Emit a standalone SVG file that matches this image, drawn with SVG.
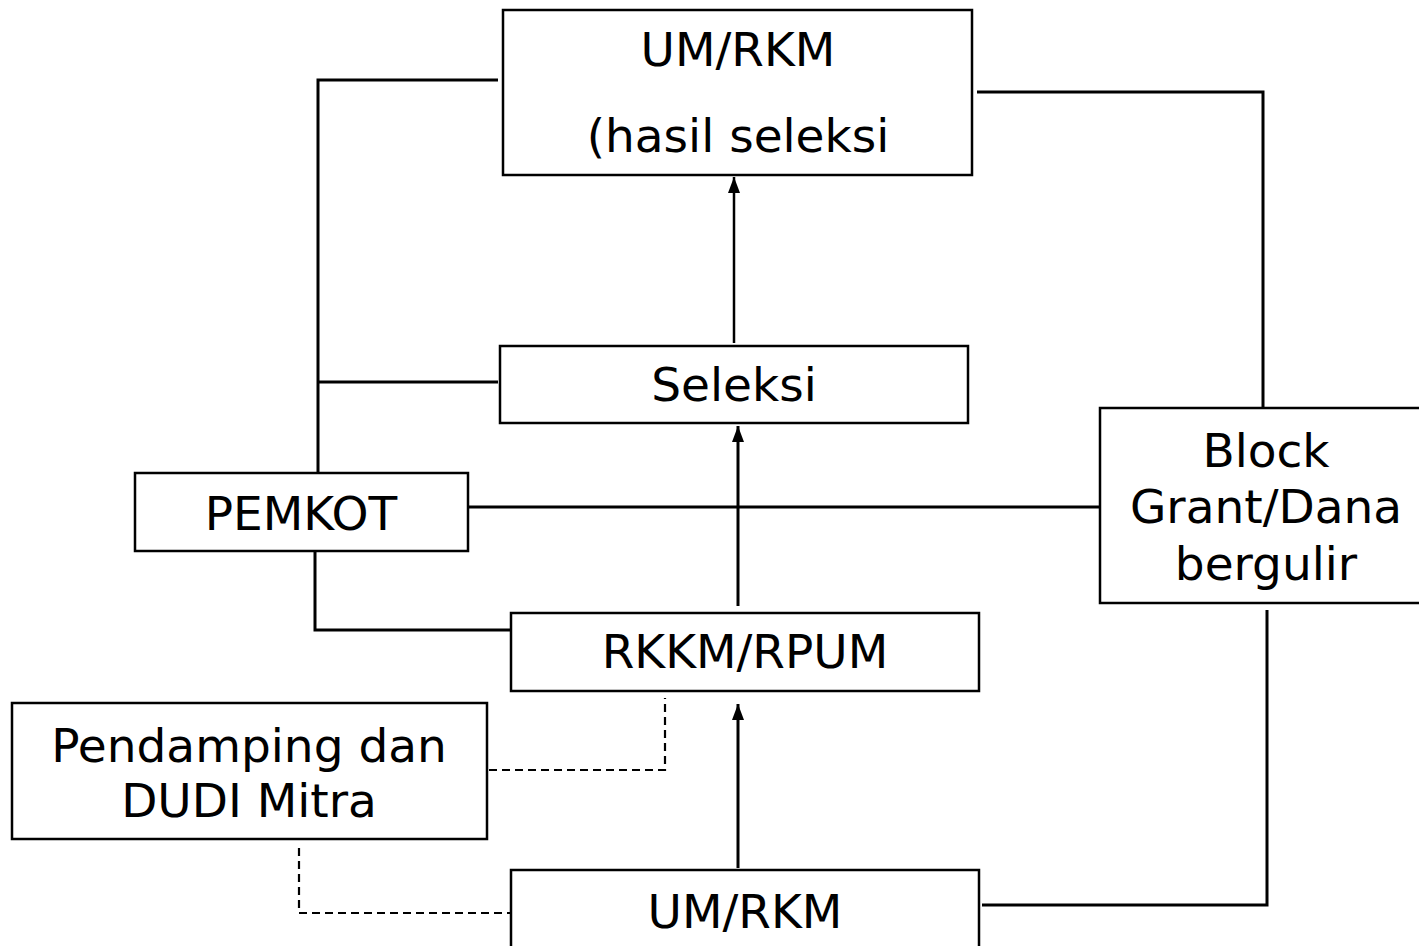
<svg xmlns="http://www.w3.org/2000/svg" width="1419" height="946" viewBox="0 0 1419 946">
<style>
.box{fill:#fff;stroke:#000;stroke-width:2.5}
.t{font-family:"DejaVu Sans",Verdana,sans-serif;font-size:47px;fill:#000;text-anchor:middle}
.c{fill:none;stroke:#000;stroke-width:3}
.d{fill:none;stroke:#000;stroke-width:2.2;stroke-dasharray:8,5}
</style>
<defs>
<marker id="ah" markerWidth="16" markerHeight="12" refX="16" refY="6" orient="auto" markerUnits="userSpaceOnUse" viewBox="0 0 16 12">
<path d="M0,0 L16,6 L0,12 Z" fill="#000"/>
</marker>
</defs>
<rect width="1419" height="946" fill="#fff"/>
<g id="connectors">
<polyline class="c" points="498,80 318,80 318,472"/>
<line class="c" x1="318" y1="382" x2="498" y2="382"/>
<polyline class="c" points="315,552 315,630 510,630"/>
<line class="c" x1="467" y1="507" x2="1100" y2="507"/>
<polyline class="c" points="977,92 1263,92 1263,408"/>
<polyline class="c" points="1267,610 1267,905 982,905"/>
<line class="c" x1="734" y1="343" x2="734" y2="177" style="stroke-width:2.5" marker-end="url(#ah)"/>
<line class="c" x1="738" y1="606" x2="738" y2="426" marker-end="url(#ah)"/>
<line class="c" x1="738" y1="868" x2="738" y2="704" marker-end="url(#ah)"/>
<polyline class="d" points="489,770 665,770 665,698"/>
<polyline class="d" points="299,848 299,913 510,913"/>
</g>
<g id="n-top">
<rect class="box" x="503" y="10" width="469" height="165"/>
<text class="t" x="738" y="66">UM/RKM</text>
<text class="t" x="738" y="152">(hasil seleksi</text>
</g>
<g id="n-seleksi">
<rect class="box" x="500" y="346" width="468" height="77"/>
<text class="t" x="734" y="401">Seleksi</text>
</g>
<g id="n-pemkot">
<rect class="box" x="135" y="473" width="333" height="78"/>
<text class="t" x="301" y="530">PEMKOT</text>
</g>
<g id="n-block">
<rect class="box" x="1100" y="408" width="322" height="195"/>
<text class="t" x="1266" y="467">Block</text>
<text class="t" x="1266" y="523">Grant/Dana</text>
<text class="t" x="1266" y="580">bergulir</text>
</g>
<g id="n-rkkm">
<rect class="box" x="511" y="613" width="468" height="78"/>
<text class="t" x="745" y="668">RKKM/RPUM</text>
</g>
<g id="n-pendamping">
<rect class="box" x="12" y="703" width="475" height="136"/>
<text class="t" x="249" y="762">Pendamping dan</text>
<text class="t" x="249" y="817">DUDI Mitra</text>
</g>
<g id="n-bottom">
<rect class="box" x="511" y="870" width="468" height="90"/>
<text class="t" x="745" y="928">UM/RKM</text>
</g>
</svg>
